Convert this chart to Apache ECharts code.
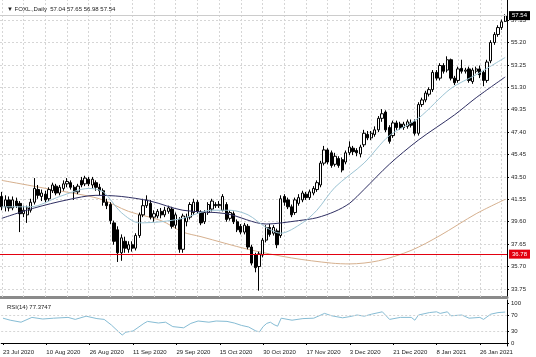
<!DOCTYPE html>
<html><head><meta charset="utf-8">
<script src="https://cdn.jsdelivr.net/npm/echarts@6/dist/echarts.min.js"></script>
<style>html,body{margin:0;padding:0;background:#fff}#c{width:536px;height:357px}</style>
</head><body><div id="c"></div>
<script>
const symbolName = 'FOXL.,Daily';
const dateLabels = ['23 Jul 2020','10 Aug 2020','26 Aug 2020','11 Sep 2020','29 Sep 2020','15 Oct 2020','30 Oct 2020','17 Nov 2020','3 Dec 2020','21 Dec 2020','8 Jan 2021','26 Jan 2021'];
// [open, close, low, high]
const candles = [
[41.8,40.9,40.6,42.2],[40.9,41.5,40.5,41.9],[41.5,40.8,40.5,41.8],[40.8,41.5,40.6,41.8],[41.4,41.0,40.8,41.7],
[41.2,40.3,38.7,41.4],[40.3,40.6,40.0,41.0],[40.2,40.8,39.5,41.0],[40.6,41.3,40.4,41.6],[41.3,42.5,41.1,43.4],
[42.4,41.9,41.6,42.8],[41.8,42.1,41.4,42.4],[42.0,41.5,41.3,42.3],[41.6,42.4,41.4,42.6],[42.3,42.8,42.1,43.0],
[42.7,42.1,41.9,42.9],[42.1,42.6,41.9,42.8],[42.5,42.9,42.3,43.2],[42.9,43.1,42.6,43.4],[43.0,42.6,42.4,43.2],
[42.6,42.2,41.5,42.8],[42.2,42.7,42.0,42.9],[43.2,42.8,42.6,43.5],[42.9,43.4,42.7,43.6],[43.3,42.9,42.7,43.5],
[42.8,43.3,42.5,43.5],[43.0,42.6,42.3,43.2],[42.6,42.3,41.9,42.9],[42.3,41.3,41.0,42.5],[41.3,41.0,40.7,41.6],
[41.1,39.7,39.4,41.3],[39.5,37.9,37.6,39.7],[38.9,36.9,36.1,39.2],[36.9,38.2,36.2,38.5],[37.9,37.3,36.9,38.3],
[37.2,37.6,36.9,37.9],[37.6,37.3,37.0,37.9],[37.3,38.4,37.1,38.6],[38.4,40.2,38.2,40.4],[40.2,41.0,40.0,41.6],
[41.0,41.5,40.8,41.9],[41.2,40.0,39.8,41.5],[40.0,40.3,39.6,40.6],[40.1,40.5,39.9,40.7],[40.5,40.2,39.9,40.8],
[40.2,40.6,40.0,40.9],[40.5,40.8,40.3,41.0],[40.7,39.2,39.0,40.9],[39.3,40.2,39.0,40.4],[39.8,37.2,36.9,40.0],
[37.2,40.1,36.9,40.3],[39.6,40.0,39.2,40.3],[40.0,41.1,39.8,41.3],[40.4,41.3,40.2,41.6],[41.3,40.5,40.3,41.5],
[40.4,39.5,39.3,40.6],[39.6,40.4,39.4,40.6],[40.4,41.1,40.2,41.3],[40.7,41.4,40.5,41.6],[41.1,41.0,40.8,41.3],
[41.0,41.1,40.8,41.4],[40.6,41.8,40.5,42.0],[41.1,39.8,39.6,41.3],[39.9,40.4,39.7,40.6],[40.3,39.6,39.4,40.5],
[39.6,38.9,38.7,39.8],[39.2,38.7,38.5,39.4],[38.7,39.3,38.5,39.5],[39.2,37.4,37.2,39.4],[37.4,36.0,35.8,37.6],
[36.7,35.6,35.2,36.9],[35.7,36.8,33.6,37.0],[36.7,38.0,36.5,38.2],[38.0,39.1,37.8,39.3],[39.1,38.5,38.3,39.4],
[38.6,39.1,38.4,39.3],[38.8,37.6,37.3,39.0],[38.4,41.6,38.2,41.9],[41.8,41.3,41.0,42.0],[41.5,40.9,40.7,41.7],
[40.9,40.2,40.0,41.1],[40.4,41.5,40.2,41.7],[41.2,41.7,41.0,42.0],[41.5,42.1,41.3,42.3],[42.0,41.7,41.5,42.2],
[41.7,42.2,41.5,42.4],[42.1,42.5,41.9,42.7],[42.4,43.0,42.2,43.2],[42.8,44.7,42.6,44.9],[44.7,45.85,44.5,46.2],
[45.85,44.8,44.6,46.0],[45.6,44.5,44.3,45.8],[44.6,45.3,44.4,45.6],[45.1,44.5,44.3,45.3],[45.0,44.1,43.9,45.2],
[44.8,45.6,44.6,45.8],[45.6,46.1,45.4,46.6],[46.0,45.7,45.4,46.2],[45.8,45.6,45.3,46.0],[45.5,46.1,45.2,46.3],
[46.3,47.3,46.1,47.6],[47.2,46.9,46.7,47.5],[46.9,47.3,46.7,47.5],[47.2,47.6,47.0,47.9],[47.6,48.6,47.4,48.8],
[48.6,49.0,48.3,49.4],[49.15,47.6,47.4,49.3],[47.8,46.6,46.4,48.0],[47.1,48.2,46.9,48.4],[48.2,47.8,47.6,48.4],
[48.1,47.8,47.6,48.3],[47.8,48.1,47.6,48.3],[47.9,48.3,47.7,48.5],[48.2,48.0,47.8,48.5],[48.3,47.3,47.1,48.5],
[47.3,49.8,47.1,50.0],[49.8,50.2,49.6,50.4],[50.2,50.8,50.0,51.0],[50.7,51.1,50.5,51.3],[51.1,52.6,50.9,52.8],
[52.6,52.1,51.9,52.8],[52.1,53.2,51.9,53.4],[53.2,52.7,52.5,53.4],[52.8,53.7,52.6,54.0],[53.7,52.1,51.9,53.8],
[52.1,51.7,51.5,52.3],[51.9,52.9,51.7,53.1],[52.95,52.7,52.5,53.7],[52.7,52.8,52.5,53.0],[52.9,51.9,51.7,53.1],
[51.8,52.8,51.6,53.0],[52.7,52.9,52.5,53.1],[52.9,52.4,52.1,53.2],[52.6,51.9,51.4,52.8],[51.9,53.5,51.7,53.7],
[53.6,55.2,53.4,55.4],[55.2,55.9,55.0,56.1],[55.9,56.5,55.7,56.7],[56.5,57.0,56.3,57.2],[57.04,57.54,56.98,57.65]
];
// [bar index, value]
const fastMA = [[0,40.9],[8,40.9],[16,41.8],[24,42.5],[28,42.2],[33,40.4],[38,39.5],[44,39.6],[50,39.9],[58,40.6],[63,40.6],[68,40.2],[73,39.1],[77,38.6],[83,39.5],[87,40.6],[92,42.6],[100,44.7],[107,47.1],[115,48.6],[124,51.2],[131,52.4],[139,53.9]];
const midMA = [[0,39.9],[9,40.8],[18,41.5],[26,41.9],[33,41.8],[41,41.4],[50,40.6],[62,40.3],[73,39.4],[82,39.7],[87,39.95],[92,40.5],[96,41.2],[100,42.4],[107,44.6],[115,46.7],[125,48.9],[131,50.4],[139,52.2]];
const slowMA = [[0,43.2],[13,42.45],[27,41.6],[35,40.5],[44,39.7],[50,38.7],[55,38.3],[68,37.2],[80,36.45],[91,36.0],[96,35.93],[104,36.2],[113,37.1],[121,38.4],[131,40.3],[139,41.55]];
const rsi = [[0,62],[2,57],[5,52],[8,64],[11,60],[14,62],[18,64],[20,59],[23,67],[26,61],[28,59],[30,45],[32,28],[33,20],[34,27],[36,30],[39,49],[40,54],[43,50],[45,52],[47,41],[50,38],[52,49],[54,55],[57,52],[59,55],[62,54],[64,50],[66,44],[68,40],[70,30],[71,28],[72,41],[73,49],[74,52],[75,46],[76,42],[77,62],[80,57],[83,61],[86,62],[89,74],[91,68],[94,63],[96,66],[98,70],[100,67],[102,72],[105,78],[107,59],[110,64],[113,64],[114,57],[115,70],[118,76],[120,78],[121,74],[123,78],[124,68],[127,70],[129,62],[132,64],[133,59],[135,72],[137,76],[139,77.37]];
const rsiCurrent = 77.3747;
const priceTicks = [33.75,35.70,37.65,39.60,41.55,43.50,45.45,47.40,49.35,51.30,53.25,55.20,57.15];
const rsiTicks = [0,30,70,100];
const rsiLevels = [30,70];
const supportLevel = 36.78;
const bidPrice = 57.54;

const cats = candles.map((_, i) => String(i));
const ff = 'Liberation Sans, Arial, sans-serif';
const txt = {fontSize:6, color:'#222', fontFamily:ff};
const gridLine = {color:'#d6d6d6', type:[2,2], width:1};
const vIdx = [];
for (let i = 0; i < candles.length; i += 6) vIdx.push(i);
const last = candles[candles.length - 1];

const chart = echarts.init(document.getElementById('c'), null, {renderer:'canvas'});
chart.setOption({
  animation:false,
  backgroundColor:'#fff',
  title:[
    {text:'▼ ' + symbolName + '  ' + [last[0], last[3], last[2], last[1]].map(v => v.toFixed(2)).join(' '),
     left:2, top:1, textStyle:Object.assign({fontWeight:'normal'}, txt)},
    {text:'RSI(14) ' + rsiCurrent.toFixed(4), left:2, top:299, textStyle:Object.assign({fontWeight:'normal'}, txt)}
  ],
  grid:[{left:0, top:0, width:507, height:297}, {left:0, top:300, width:507, height:46}],
  xAxis:[
    {type:'category', gridIndex:0, data:cats, boundaryGap:true,
     axisLine:{show:true, lineStyle:{color:'#8a8a8a', width:3}}, axisTick:{show:false}, axisLabel:{show:false}, splitLine:{show:false}},
    {type:'category', gridIndex:1, data:cats, boundaryGap:true,
     axisLine:{show:true, lineStyle:{color:'#000', width:1}},
     axisTick:{show:true, interval:11, alignWithLabel:true, length:2, lineStyle:{color:'#000'}},
     axisLabel:Object.assign({interval:11, align:'left', margin:3,
       formatter:v => { const i = +v; return i % 12 === 0 ? (dateLabels[i / 12] || '') : ''; }}, txt),
     splitLine:{show:false}}
  ],
  yAxis:[
    {type:'value', gridIndex:0, position:'right', min:33.05, max:58.90,
     axisLine:{show:true, lineStyle:{color:'#000'}},
     axisTick:{show:true, length:2, customValues:priceTicks, lineStyle:{color:'#000'}},
     axisLabel:Object.assign({customValues:priceTicks, formatter:v => v.toFixed(2), margin:4}, txt),
     splitLine:{show:false}},
    {type:'value', gridIndex:1, position:'right', min:-7.5, max:107.5,
     axisLine:{show:true, lineStyle:{color:'#000'}},
     axisTick:{show:true, length:2, customValues:rsiTicks, lineStyle:{color:'#000'}},
     axisLabel:Object.assign({customValues:rsiTicks, formatter:v => String(v), margin:4}, txt),
     splitLine:{show:false}}
  ],
  series:[
    {type:'line', xAxisIndex:0, yAxisIndex:0, data:[], silent:true, z:1,
     markLine:{silent:true, symbol:'none', z:1, animation:false, label:{show:false}, lineStyle:gridLine,
       data:[...priceTicks.map(v => ({yAxis:v})), ...vIdx.map(i => ({xAxis:cats[i]}))]}},
    {type:'candlestick', xAxisIndex:0, yAxisIndex:0, data:candles, barWidth:2.8, z:3,
     itemStyle:{color:'#ffffff', color0:'#000000', borderColor:'#000000', borderColor0:'#000000', borderWidth:1},
     markLine:{silent:true, symbol:'none', animation:false,
       data:[
         {yAxis:supportLevel, lineStyle:{color:'#e3000f', width:1, type:'solid'},
          label:{show:true, position:'end', distance:2, formatter:p => p.value.toFixed(2), color:'#fff',
                 backgroundColor:'#e3000f', padding:[2,3,1,3], fontSize:6, fontFamily:ff}},
         {yAxis:bidPrice, lineStyle:{color:'#cccccc', width:1, type:'solid'},
          label:{show:true, position:'end', distance:2, formatter:p => p.value.toFixed(2), color:'#fff',
                 backgroundColor:'#000', padding:[2,3,1,3], fontSize:6, fontFamily:ff}}
       ]}},
    {type:'line', xAxisIndex:0, yAxisIndex:0, data:slowMA, showSymbol:false, smooth:0.3, z:2,
     lineStyle:{color:'#d6b08e', width:1}},
    {type:'line', xAxisIndex:0, yAxisIndex:0, data:midMA, showSymbol:false, smooth:0.3, z:4,
     lineStyle:{color:'#2e2e62', width:1}},
    {type:'line', xAxisIndex:0, yAxisIndex:0, data:fastMA, showSymbol:false, smooth:0.3, z:4,
     lineStyle:{color:'#9cc4d4', width:1}},
    {type:'line', xAxisIndex:1, yAxisIndex:1, data:rsi, showSymbol:false, z:3,
     lineStyle:{color:'#86bcd4', width:1},
     markLine:{silent:true, symbol:'none', animation:false, label:{show:false}, lineStyle:gridLine,
       data:rsiLevels.map(v => ({yAxis:v}))}}
  ]
});
</script></body></html>
